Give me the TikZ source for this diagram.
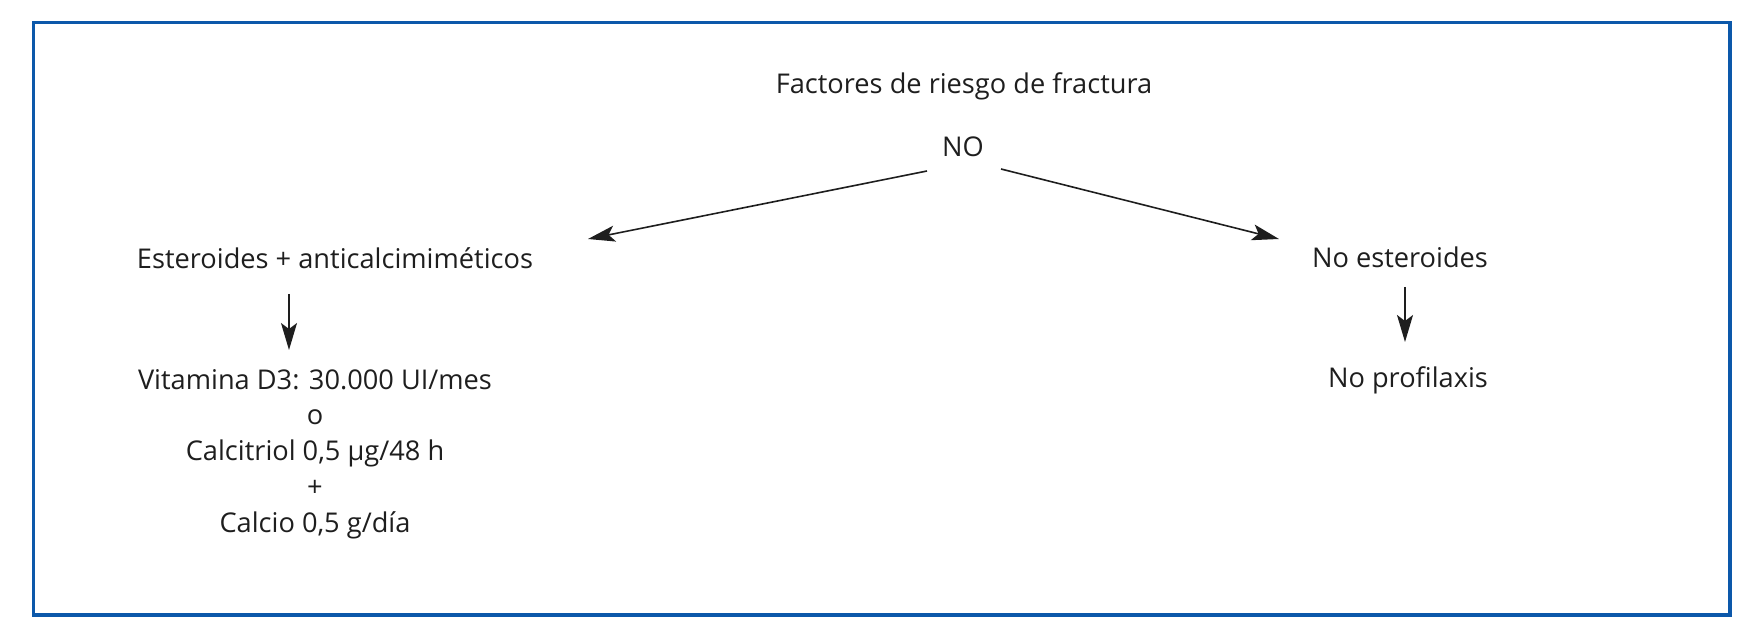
\documentclass[tikz,border=0pt]{standalone}
\usepackage{fontspec}
\setmainfont{Open Sans}
\usetikzlibrary{arrows.meta}
\definecolor{frameblue}{RGB}{12,88,170}
\definecolor{ink}{RGB}{30,30,30}
\begin{document}
\begin{tikzpicture}[x=1pt,y=-1pt,
  lbl/.style={inner sep=0pt, text=ink, font=\fontsize{27.2}{35.75}\selectfont},
  arr/.style={draw=ink, line width=1.6pt, -{Stealth[length=27pt,width=16pt,inset=6pt]}}]
\useasboundingbox (0,0) rectangle (1759,636);
\draw[frameblue, line width=3.5pt] (33.5,22.5) rectangle (1730,615);
\node[lbl] (fr) at (964,86) {Factores de riesgo de fractura};
\node[lbl] (no) at (963,147) {NO};
\node[lbl] (est) at (335,258) {Esteroides + anticalcimiméticos};
\node[lbl] (noest) at (1400,257) {No esteroides};
\node[lbl, align=center] (vit) at (315,454) {Vitamina D3: 30.000 UI/mes\\o\\Calcitriol 0,5 µg/48 h\\+\\Calcio 0,5 g/día};
\node[lbl] (noprof) at (1408,380) {No profilaxis};
\coordinate (l1) at (927,171);
\coordinate (l2) at (588,239);
\coordinate (r1) at (1001,169);
\coordinate (r2) at (1279,239);
\coordinate (d1) at (289,294);
\coordinate (d2) at (289,350);
\coordinate (e1) at (1405,287);
\coordinate (e2) at (1405,342);
\draw[arr] (l1) -- (l2);
\draw[arr] (r1) -- (r2);
\draw[arr] (d1) -- (d2);
\draw[arr] (e1) -- (e2);
\end{tikzpicture}
\end{document}
